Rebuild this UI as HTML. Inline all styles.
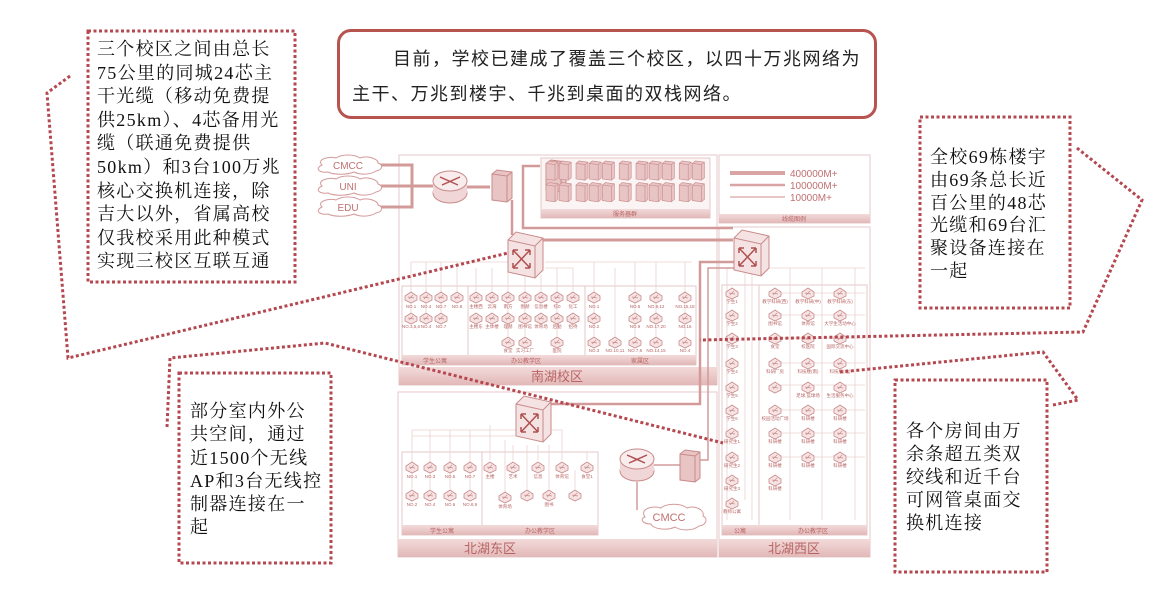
<!DOCTYPE html>
<html><head><meta charset="utf-8">
<style>
html,body{margin:0;padding:0;background:#fff;width:1151px;height:599px;overflow:hidden;position:relative}
.k{font-family:"Liberation Serif","Noto Serif CJK SC",serif;color:#111;position:absolute;font-size:18px;letter-spacing:1.3px}
.title{position:absolute;left:337px;top:29px;width:534px;height:84px;border:3px solid #b85450;border-radius:14px;background:#fff}
.title div{position:absolute;font-family:"Liberation Sans","Noto Sans CJK SC",sans-serif;font-size:18px;letter-spacing:1.5px;color:#222;white-space:nowrap}
svg{position:absolute;left:0;top:0}
</style></head><body>
<svg width="1151" height="599" viewBox="0 0 1151 599">
<defs>
<g id="ic"><path d="M-6,-1 L0,-5 L6,-1 L6,3 L0,6 L-6,3Z" fill="#f6e4e4" stroke="#c98a8a" stroke-width="0.8"/><path d="M-3,0 L3,1 M-2,2 L2,-2" stroke="#c98a8a" stroke-width="0.7"/></g>
<linearGradient id="bd" x1="0" y1="0" x2="0" y2="1"><stop offset="0" stop-color="#f3dada"/><stop offset="1" stop-color="#e2b8b8"/></linearGradient>
<g id="sw"><path d="M0,8 L8,0 L35,6 L35,38 L27,46 L0,40Z" fill="#f5e3e3" stroke="#c98a8a"/><path d="M0,8 L27,14 L35,6 M27,14 L27,46" fill="none" stroke="#c98a8a"/><path d="M5,18 L22,36 M22,18 L5,36 M5,18 l0,5 M5,18 l5,0 M22,36 l-5,0 M22,36 l0,-5 M22,18 l-5,0 M22,18 l0,5 M5,36 l5,0 M5,36 l0,-5" stroke="#b05050" stroke-width="1.5" fill="none"/></g>
<g id="rt"><ellipse cx="0" cy="6" rx="17" ry="10" fill="#f0d6d6" stroke="#c98a8a"/><rect x="-17" y="-6" width="34" height="12" fill="#f0d6d6"/><ellipse cx="0" cy="-6" rx="17" ry="10" fill="#f8ecec" stroke="#c98a8a"/><path d="M-10,-10 L8,-2 M-8,-2 L10,-10" stroke="#b05050" stroke-width="1.5"/></g>
<g id="sv"><path d="M0,4 L5,0 L20,2 L20,28 L15,32 L0,30Z" fill="#e8c4c4" stroke="#c98a8a"/><path d="M0,4 L15,6 L20,2 M15,6 L15,32" fill="none" stroke="#c98a8a"/></g>
</defs>
<g fill="none" stroke="#e6c8c8" stroke-width="1">
<!-- south area -->
<rect x="399" y="155" width="318" height="230"/>
<rect x="541" y="158" width="169" height="60" fill="#fbf4f4"/>
<rect x="719" y="155" width="151" height="68"/>
<rect x="719" y="227" width="151" height="330"/>
<rect x="398" y="392" width="319" height="165"/>
<rect x="402" y="286" width="294" height="79"/>
<line x1="468" y1="286" x2="468" y2="365"/><line x1="585" y1="286" x2="585" y2="365"/>
<rect x="722" y="285" width="145" height="250"/><line x1="759" y1="285" x2="759" y2="535"/>
<rect x="402" y="452" width="196" height="83"/><line x1="482" y1="452" x2="482" y2="535"/>
</g>
<!-- bands -->
<g fill="url(#bd)">
<rect x="399" y="367" width="318" height="18"/>
<rect x="541" y="209" width="169" height="9"/>
<rect x="719" y="214" width="151" height="9"/>
<rect x="402" y="355" width="294" height="10"/>
<rect x="722" y="525" width="145" height="10"/>
<rect x="402" y="525" width="196" height="10"/>
<rect x="398" y="539" width="319" height="18"/>
<rect x="719" y="539" width="151" height="18"/>
</g>
<g font-family="Liberation Sans,Noto Sans CJK SC,sans-serif" fill="#b86464" text-anchor="middle">
<text x="557" y="381" font-size="13">南湖校区</text>
<text x="490" y="553" font-size="13">北湖东区</text>
<text x="794" y="553" font-size="13">北湖西区</text>
<g font-size="6"><text x="625" y="216">服务器群</text><text x="794" y="221">线缆图例</text>
<text x="435" y="363">学生公寓</text><text x="526" y="363">办公教学区</text><text x="640" y="363">家属区</text>
<text x="740" y="533">公寓</text><text x="813" y="533">办公教学区</text>
<text x="442" y="533">学生公寓</text><text x="540" y="533">办公教学区</text></g>
</g>
<!-- legend -->
<g stroke="#d9a4a4"><line x1="730" y1="173" x2="785" y2="173" stroke-width="4"/><line x1="730" y1="185" x2="785" y2="185" stroke-width="2.5"/><line x1="730" y1="197" x2="785" y2="197" stroke-width="1.2"/></g>
<g font-family="Liberation Sans,sans-serif" font-size="10" fill="#c07070"><text x="790" y="177">400000M+</text><text x="790" y="189">100000M+</text><text x="790" y="201">10000M+</text></g>
<!-- thin connector lines -->
<g stroke="#ebd2d2" stroke-width="0.8" fill="none">
<path d="M411,291V262H508 M426,291V262 M441,291V262 M457,291V262 M411,312V270 M426,312V270 M441,312V270"/>
<path d="M476,291V268 M492,291V268 M508,291V268 M525,291V275 M541,291V275 M557,291V268 M573,291V268H545 M508,336V280 M525,336V280 M557,336V280"/>
<path d="M545,262H692 M594,291V262 M635,291V262 M656,291V262 M685,291V262 M594,312V265 M635,312V265 M656,312V265 M685,312V265 M594,336V268 M615,336V268 M635,336V268 M656,336V268 M685,336V268"/>
<path d="M768,268H865 M727,268V520 M745,268V500 M752,268V520 M790,268V520 M822,268V520 M855,268V520 M770,293H865 M770,315H865 M770,338H865 M770,363H865 M770,385H865 M770,410H865 M770,433H865 M770,457H865"/>
<path d="M412,460V430H533 M430,460V430 M450,460V430 M470,460V430 M412,489V436H533 M430,489V436 M450,489V436 M470,489V436 M490,460V425 M513,460V445 M538,460V445 M562,460V430H548 M587,460V452 M505,499V440 M527,489V445 M549,489V445 M575,489V470"/>
</g>
<!-- icons -->
<g>
<use href="#ic" x="411" y="297"/><use href="#ic" x="426" y="297"/><use href="#ic" x="441" y="297"/><use href="#ic" x="457" y="297"/>
<use href="#ic" x="411" y="318"/><use href="#ic" x="426" y="318"/><use href="#ic" x="441" y="318"/>
<use href="#ic" x="476" y="297"/><use href="#ic" x="492" y="297"/><use href="#ic" x="508" y="297"/><use href="#ic" x="525" y="297"/><use href="#ic" x="541" y="297"/><use href="#ic" x="557" y="297"/><use href="#ic" x="573" y="297"/>
<use href="#ic" x="476" y="318"/><use href="#ic" x="492" y="318"/><use href="#ic" x="508" y="318"/><use href="#ic" x="525" y="318"/><use href="#ic" x="541" y="318"/><use href="#ic" x="557" y="318"/><use href="#ic" x="573" y="318"/>
<use href="#ic" x="508" y="342"/><use href="#ic" x="525" y="342"/><use href="#ic" x="557" y="342"/>
<use href="#ic" x="594" y="297"/><use href="#ic" x="635" y="297"/><use href="#ic" x="656" y="297"/><use href="#ic" x="685" y="297"/>
<use href="#ic" x="594" y="318"/><use href="#ic" x="635" y="318"/><use href="#ic" x="656" y="318"/><use href="#ic" x="685" y="318"/>
<use href="#ic" x="594" y="342"/><use href="#ic" x="615" y="342"/><use href="#ic" x="635" y="342"/><use href="#ic" x="656" y="342"/><use href="#ic" x="685" y="342"/>
<use href="#ic" x="732" y="293"/><use href="#ic" x="732" y="315"/><use href="#ic" x="732" y="338"/><use href="#ic" x="732" y="363"/><use href="#ic" x="732" y="387"/><use href="#ic" x="732" y="410"/><use href="#ic" x="732" y="433"/><use href="#ic" x="732" y="457"/><use href="#ic" x="732" y="480"/><use href="#ic" x="732" y="503"/>
<use href="#ic" x="775" y="293"/><use href="#ic" x="808" y="293"/><use href="#ic" x="840" y="293"/>
<use href="#ic" x="775" y="315"/><use href="#ic" x="808" y="315"/><use href="#ic" x="840" y="315"/>
<use href="#ic" x="775" y="338"/><use href="#ic" x="808" y="338"/><use href="#ic" x="840" y="338"/>
<use href="#ic" x="775" y="363"/><use href="#ic" x="808" y="363"/><use href="#ic" x="840" y="363"/>
<use href="#ic" x="775" y="387"/><use href="#ic" x="808" y="387"/><use href="#ic" x="840" y="387"/>
<use href="#ic" x="775" y="410"/><use href="#ic" x="808" y="410"/><use href="#ic" x="840" y="410"/>
<use href="#ic" x="775" y="433"/><use href="#ic" x="808" y="433"/><use href="#ic" x="840" y="433"/>
<use href="#ic" x="775" y="457"/><use href="#ic" x="808" y="457"/><use href="#ic" x="840" y="457"/>
<use href="#ic" x="775" y="480"/>
<use href="#ic" x="412" y="467"/><use href="#ic" x="430" y="467"/><use href="#ic" x="450" y="467"/><use href="#ic" x="470" y="467"/>
<use href="#ic" x="412" y="495"/><use href="#ic" x="430" y="495"/><use href="#ic" x="450" y="495"/><use href="#ic" x="470" y="495"/>
<use href="#ic" x="490" y="467"/><use href="#ic" x="513" y="467"/><use href="#ic" x="538" y="467"/><use href="#ic" x="562" y="467"/><use href="#ic" x="587" y="467"/>
<use href="#ic" x="505" y="497"/><use href="#ic" x="527" y="495"/><use href="#ic" x="549" y="495"/><use href="#ic" x="575" y="495"/>
</g>
<g font-family="Liberation Sans,Noto Sans CJK SC,sans-serif" font-size="4.5" fill="#b86464" text-anchor="middle">
<text x="411" y="308">NO.1</text><text x="426" y="308">NO.4</text><text x="441" y="308">NO.7</text><text x="457" y="308">NO.8</text>
<text x="411" y="328">NO.3,5,6</text><text x="426" y="328">NO.4</text><text x="441" y="328">NO.7</text>
<text x="476" y="308">主楼西</text><text x="492" y="308">云海</text><text x="508" y="308">南方</text><text x="525" y="308">图赫</text><text x="541" y="308">信息楼</text><text x="557" y="308">综0</text><text x="573" y="308">化工</text>
<text x="476" y="328">主楼东</text><text x="492" y="328">主体楼</text><text x="508" y="328">理赫</text><text x="525" y="328">图书馆</text><text x="541" y="328">体育场</text><text x="557" y="328">后勤</text><text x="573" y="328">招待</text>
<text x="508" y="352">食堂</text><text x="525" y="352">实习工厂</text><text x="557" y="352">医院</text>
<text x="594" y="308">NO.1</text><text x="635" y="308">NO.6</text><text x="656" y="308">NO.8,12</text><text x="685" y="308">NO.15,18</text>
<text x="594" y="328">NO.2</text><text x="635" y="328">NO.9</text><text x="656" y="328">NO.17,20</text><text x="685" y="328">NO.16</text>
<text x="594" y="352">NO.3</text><text x="615" y="352">NO.10,11</text><text x="635" y="352">NO.7,8</text><text x="656" y="352">NO.14,15</text><text x="685" y="352">NO.4</text>
<text x="732" y="303">学生1</text><text x="732" y="325">学生2</text><text x="732" y="348">学生3</text><text x="732" y="373">学生4</text><text x="732" y="397">学生5</text><text x="732" y="420">学生6</text><text x="732" y="443">研究生1</text><text x="732" y="467">研究生2</text><text x="732" y="490">研究生3</text><text x="732" y="513">教师公寓</text>
<text x="775" y="303">教学科研(西)</text><text x="808" y="303">教学科研(中)</text><text x="840" y="303">教学科研(东)</text>
<text x="775" y="325">图书馆</text><text x="808" y="325">体育馆</text><text x="840" y="325">大学生活动中心</text>
<text x="775" y="348">食堂</text><text x="808" y="348">校医院</text><text x="840" y="348">国际交流中心</text>
<text x="775" y="373">科研厂房</text><text x="808" y="373">科技楼(南)</text><text x="840" y="373">科技楼(北)</text>
<text x="808" y="397">足球,篮球场</text><text x="840" y="397">生活服务中心</text>
<text x="775" y="420">校园活动广场</text><text x="808" y="420">科研楼</text><text x="840" y="420">科研楼</text>
<text x="775" y="443">科研楼</text><text x="808" y="443">科研楼</text><text x="840" y="443">科研楼</text>
<text x="775" y="467">科研楼</text><text x="808" y="467">科研楼</text><text x="840" y="467">科研楼</text>
<text x="775" y="490">科研楼</text>
<text x="412" y="478">NO.1</text><text x="430" y="478">NO.3</text><text x="450" y="478">NO.5</text><text x="470" y="478">NO.7</text>
<text x="412" y="506">NO.2</text><text x="430" y="506">NO.4</text><text x="450" y="506">NO.6</text><text x="470" y="506">NO.8,9</text>
<text x="490" y="478">主楼</text><text x="513" y="478">艺术</text><text x="538" y="478">信息</text><text x="562" y="478">体育馆</text><text x="587" y="478">食堂1</text>
<text x="505" y="508">体育场</text><text x="549" y="506">图书</text>
</g>
<!-- servers in server group -->
<g>
<use href="#sv" x="546" y="160" transform="scale(1)"/>
<g transform="translate(546,161) scale(0.6)"><use href="#sv" x="0" y="0"/><use href="#sv" x="22" y="0"/><use href="#sv" x="50" y="0"/><use href="#sv" x="72" y="0"/><use href="#sv" x="94" y="0"/><use href="#sv" x="122" y="0"/><use href="#sv" x="150" y="0"/><use href="#sv" x="172" y="0"/><use href="#sv" x="194" y="0"/><use href="#sv" x="222" y="0"/><use href="#sv" x="244" y="0"/>
<use href="#sv" x="0" y="36"/><use href="#sv" x="22" y="36"/><use href="#sv" x="50" y="36"/><use href="#sv" x="72" y="36"/><use href="#sv" x="94" y="36"/><use href="#sv" x="122" y="36"/><use href="#sv" x="150" y="36"/><use href="#sv" x="172" y="36"/><use href="#sv" x="194" y="36"/><use href="#sv" x="222" y="36"/><use href="#sv" x="244" y="36"/></g>
</g>
<!-- backbone thick lines -->
<g stroke="#d39a9a" fill="none">
<path d="M380,165H412V207H380 M380,186H433" stroke-width="3"/>
<path d="M467,187H490" stroke-width="3"/>
<path d="M512,200V235" stroke-width="2.5"/>
<path d="M540,166H523V228H733" stroke-width="2.5"/>
<path d="M543,240H733" stroke-width="3"/>
<path d="M740,262H700V404H548" stroke-width="2.5"/>
<path d="M740,268H708V460H700" stroke-width="1.5"/>
<path d="M654,465H682 M637,482V510" stroke-width="1.5"/>
</g>
<!-- clouds -->
<g fill="#fff" stroke="#d39a9a" stroke-width="1">
<path d="M322,165 c-6,-6 8,-9 14,-7 c6,-4 18,-4 24,0 c8,-3 18,1 18,5 c6,2 4,7 -2,8 c-6,4 -16,4 -22,1 c-8,3 -20,3 -26,0 c-8,1 -14,-3 -6,-7z"/>
<path d="M322,186 c-6,-6 8,-9 14,-7 c6,-4 18,-4 24,0 c8,-3 18,1 18,5 c6,2 4,7 -2,8 c-6,4 -16,4 -22,1 c-8,3 -20,3 -26,0 c-8,1 -14,-3 -6,-7z"/>
<path d="M322,207 c-6,-6 8,-9 14,-7 c6,-4 18,-4 24,0 c8,-3 18,1 18,5 c6,2 4,7 -2,8 c-6,4 -16,4 -22,1 c-8,3 -20,3 -26,0 c-8,1 -14,-3 -6,-7z"/>
<path d="M645,517 c-6,-8 8,-12 16,-9 c6,-5 20,-5 26,0 c8,-3 18,2 16,8 c6,3 2,10 -4,10 c-6,5 -18,5 -24,1 c-8,4 -22,2 -24,-3 c-8,0 -12,-5 -6,-7z"/>
</g>
<g font-family="Liberation Sans,sans-serif" font-size="10" fill="#c07070" text-anchor="middle"><text x="348" y="169">CMCC</text><text x="348" y="190">UNI</text><text x="348" y="211">EDU</text><text x="669" y="521" font-size="11">CMCC</text></g>
<use href="#rt" x="450" y="187"/><use href="#rt" x="637" y="465"/>
<use href="#sv" x="492" y="170"/><use href="#sv" x="680" y="450"/>
<use href="#sw" x="508" y="232"/><use href="#sw" x="734" y="230"/><use href="#sw" x="516" y="396"/>
<!-- dotted callout lines -->
<g fill="none" stroke="#b4474f" stroke-width="3" stroke-dasharray="3,2.5">
<rect x="88" y="31" width="207" height="251"/>
<path d="M70,76 L47,93 L68,358 L508,253"/>
<rect x="179" y="373" width="152" height="190"/>
<path d="M167,427 L170,358 L325,343 L723,443"/>
<rect x="920" y="117" width="150" height="191"/>
<path d="M1077,148 L1142,200 L1083,332 L700,340"/>
<rect x="895" y="380" width="152" height="192"/>
<path d="M1053,405 L1078,400 L1043,352 L840,372"/>
</g>
</svg>
<div class="title"><div style="left:53px;top:13px">目前，学校已建成了覆盖三个校区，以四十万兆网络为</div><div style="left:12px;top:48px">主干、万兆到楼宇、千兆到桌面的双栈网络。</div></div>
<div class="k" style="left:97px;top:38px;line-height:23.6px;width:190px">三个校区之间由总长<br>75公里的同城24芯主<br>干光缆（移动免费提<br>供25km）、4芯备用光<br>缆（联通免费提供<br>50km）和3台100万兆<br>核心交换机连接，除<br>吉大以外，省属高校<br>仅我校采用此种模式<br>实现三校区互联互通</div>
<div class="k" style="left:190px;top:400px;line-height:23.3px">部分室内外公<br>共空间，通过<br>近1500个无线<br>AP和3台无线控<br>制器连接在一<br>起</div>
<div class="k" style="left:930px;top:146px;line-height:22.8px">全校69栋楼宇<br>由69条总长近<br>百公里的48芯<br>光缆和69台汇<br>聚设备连接在<br>一起</div>
<div class="k" style="left:906px;top:420px;line-height:23px">各个房间由万<br>余条超五类双<br>绞线和近千台<br>可网管桌面交<br>换机连接</div>
</body></html>
